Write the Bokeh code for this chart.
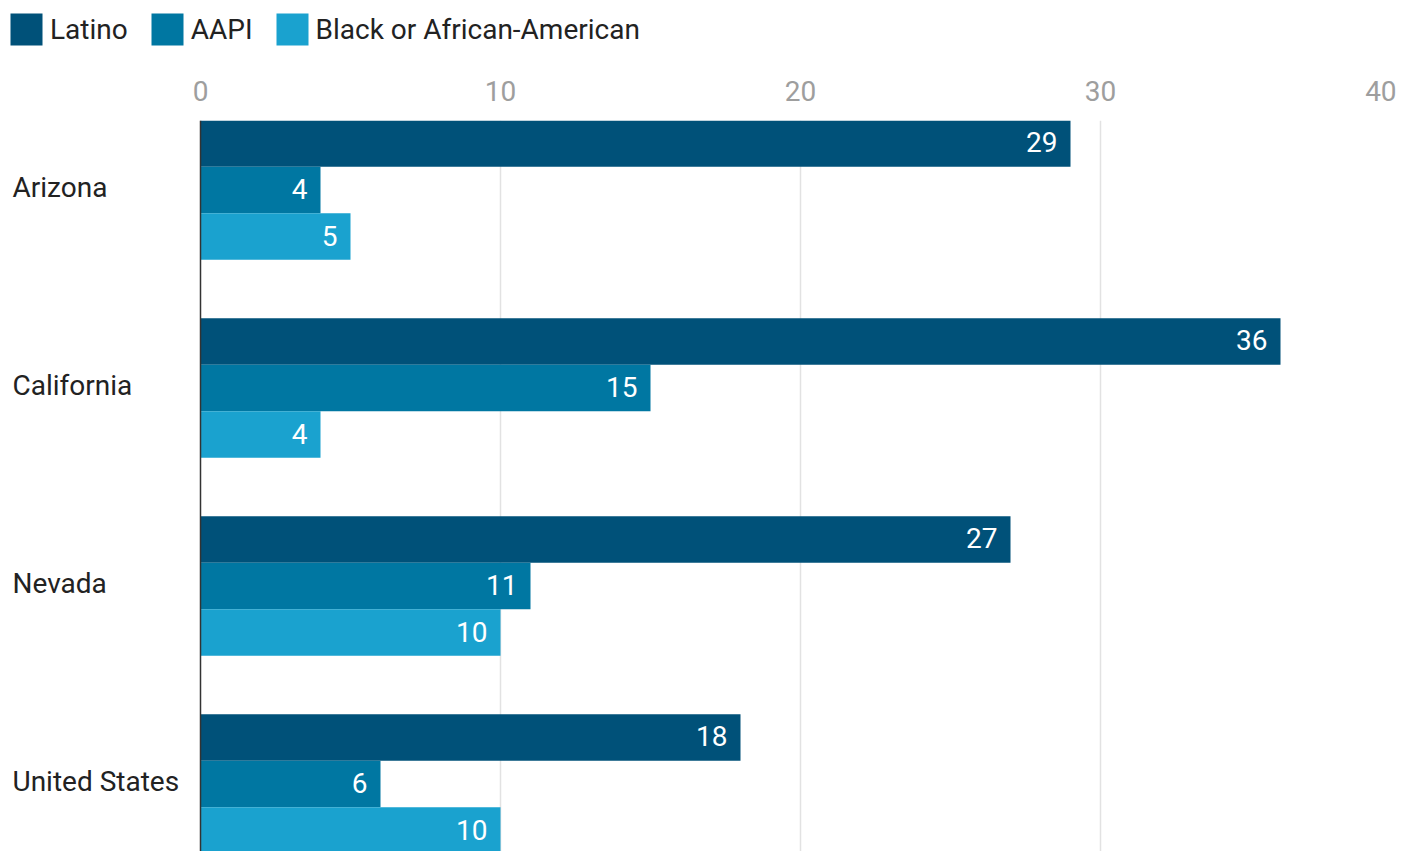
from bokeh.plotting import figure
from bokeh.layouts import column
from bokeh.models import (ColumnDataSource, Range1d, FixedTicker, LabelSet,
                          Legend, LegendItem, Span)
from bokeh.core.properties import value
from bokeh.embed import file_html
from bokeh.resources import INLINE

# ---- data ----
states = ["Arizona", "California", "Nevada", "United States"]
series = ["Latino", "AAPI", "Black or African-American"]
latino = [29, 36, 27, 18]
aapi = [4, 15, 11, 6]
black = [5, 4, 10, 10]
x_ticks = [0, 10, 20, 30, 40]
colors = ["#005179", "#0077A2", "#1AA2CF"]

FONT = "Roboto"
FS = "28px"
BAR_H = 0.235
offsets = [-BAR_H, 0.0, BAR_H]

# layout (pixels)
W = 1410
LEG_H = 60
MAIN_H = 851 - LEG_H
LEFT_GAP = 200          # space for category names, left of x=0
PX_PER_UNIT = 30.0
X_START = -LEFT_GAP / PX_PER_UNIT

# ---------- legend strip ----------
lg = figure(width=W, height=LEG_H, output_backend="svg", toolbar_location=None,
            x_range=Range1d(0, 1), y_range=Range1d(0, 1),
            x_axis_location=None, y_axis_location=None,
            min_border=0)
lg.outline_line_color = None
lg.grid.visible = False
# zero-length bars: they only carry the legend swatch styles
leg_renderers = [lg.hbar(y=[0.5], left=[0], right=[0], height=1, fill_color=c,
                         line_color=None)
                 for c in colors]
legend = Legend(items=[LegendItem(label=s, renderers=[r])
                       for s, r in zip(series, leg_renderers)],
                location=(6, 11), orientation="horizontal",
                glyph_width=40, glyph_height=40, label_standoff=4, spacing=19,
                padding=0, margin=0, border_line_color=None,
                background_fill_alpha=0, label_text_font=FONT,
                label_text_font_size=FS, label_text_color="#222222",
                label_height=40, label_text_baseline="middle")
lg.add_layout(legend, "center")

# ---------- main chart ----------
p = figure(width=W, height=MAIN_H, output_backend="svg", toolbar_location=None,
           x_range=Range1d(X_START, 40), y_range=Range1d(3.341, -0.351),
           x_axis_location="above", y_axis_location=None,
           min_border_left=0, min_border_right=W - 1400,
           min_border_top=120 - LEG_H, min_border_bottom=0)
p.outline_line_color = None

for vals, off, col in zip([latino, aapi, black], offsets, colors):
    ys = [i + off for i in range(len(states))]
    src = ColumnDataSource(dict(y=ys, v=vals, t=[str(v) for v in vals]))
    p.hbar(y="y", right="v", left=0, height=BAR_H, source=src,
           fill_color=col, line_color=None)
    p.add_layout(LabelSet(x="v", y="y", text="t", source=src, x_offset=-13,
                          y_offset=1, text_align="right", text_baseline="middle",
                          text_color="white", text_font=value(FONT),
                          text_font_size=FS))

# category names, left aligned in the space left of zero
cat_src = ColumnDataSource(dict(y=list(range(len(states))), name=states))
p.text(x=X_START, y="y", text="name", source=cat_src, x_offset=12, y_offset=-2,
       text_align="left", text_baseline="middle", text_color="#222222",
       text_font=value(FONT), text_font_size=FS)

# vertical axis line at zero
p.add_layout(Span(location=0, dimension="height", line_color="#333333",
                  line_width=1.5))

# x axis (top)
xa = p.xaxis[0]
xa.ticker = FixedTicker(ticks=x_ticks)
xa.major_label_overrides = {40: "40" + "\u00a0" * 2}
xa.axis_line_color = None
xa.major_tick_line_color = None
xa.minor_tick_line_color = None
xa.major_label_text_font = FONT
xa.major_label_text_font_size = FS
xa.major_label_text_color = "#9E9E9E"
xa.major_label_standoff = 7

p.xgrid.ticker = FixedTicker(ticks=x_ticks[1:])
p.xgrid.grid_line_color = "#E2E2E2"
p.xgrid.grid_line_width = 1.5
p.ygrid.grid_line_color = None

open("out.html", "w").write(file_html(column(lg, p), INLINE))
